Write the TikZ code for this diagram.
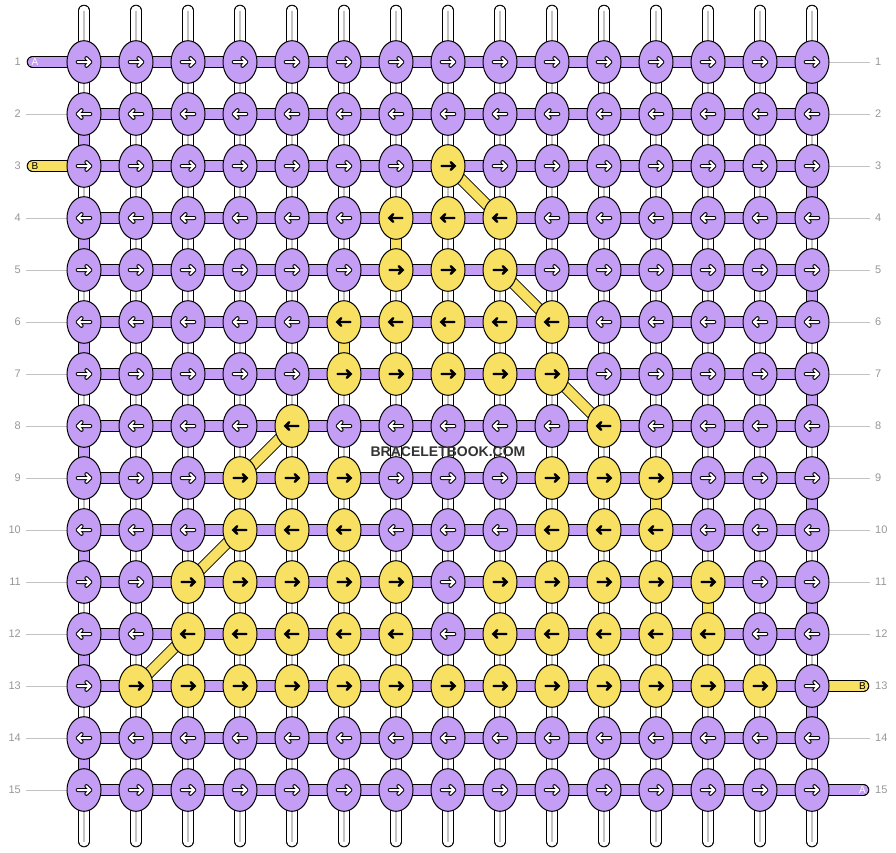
\documentclass[tikz,border=0pt]{standalone}
\usepackage{fontspec}
\setmainfont{Liberation Sans}
\usetikzlibrary{shapes.geometric}
\pgfdeclarelayer{bg}
\pgfsetlayers{bg,main}
\definecolor{purp}{RGB}{196,157,245}
\definecolor{yel}{RGB}{247,224,98}
\definecolor{lgrey}{RGB}{195,195,195}
\definecolor{tgrey}{RGB}{150,150,150}
\definecolor{wmark}{RGB}{51,51,51}
\tikzset{
  knot/.style={ellipse, draw=black, line width=1pt, minimum width=34pt, minimum height=42.6pt, inner sep=0pt},
  knot0/.style={knot, fill=purp},
  knot1/.style={knot, fill=yel},
  arr0/.style={draw=white, line width=2pt, line cap=round, line join=round,
    preaction={draw=black, line width=4pt, line cap=round, line join=round}},
  arr1/.style={draw=black, line width=2.4pt, line cap=round, line join=miter},
  con0/.style={draw=white, line width=9.6pt, line cap=#1,
    preaction={draw=black, line width=11.6pt, line cap=#1},
    postaction={draw=lgrey, line width=1.3pt, line cap=butt}},
  con1/.style={draw=purp, line width=9.6pt, line cap=#1,
    preaction={draw=black, line width=11.6pt, line cap=#1}},
  con2/.style={draw=yel, line width=9.6pt, line cap=#1,
    preaction={draw=black, line width=11.6pt, line cap=#1}},
  con0/.default=butt, con1/.default=butt, con2/.default=butt,
  guide/.style={draw=lgrey, line width=1pt},
  rownum/.style={text=tgrey, font=\fontsize{11}{11}\selectfont, inner sep=0pt},
  stubtxt/.style={font=\fontsize{10}{10}\selectfont, inner sep=0pt}
}
\begin{document}
\begin{tikzpicture}[x=1pt, y=-1pt]
\useasboundingbox (0,0) rectangle (896,852);
% knots
\foreach \pat [count=\r] in {
 {0,0,0,0,0,0,0,0,0,0,0,0,0,0,0},
 {0,0,0,0,0,0,0,0,0,0,0,0,0,0,0},
 {0,0,0,0,0,0,0,1,0,0,0,0,0,0,0},
 {0,0,0,0,0,0,1,1,1,0,0,0,0,0,0},
 {0,0,0,0,0,0,1,1,1,0,0,0,0,0,0},
 {0,0,0,0,0,1,1,1,1,1,0,0,0,0,0},
 {0,0,0,0,0,1,1,1,1,1,0,0,0,0,0},
 {0,0,0,0,1,0,0,0,0,0,1,0,0,0,0},
 {0,0,0,1,1,1,0,0,0,1,1,1,0,0,0},
 {0,0,0,1,1,1,0,0,0,1,1,1,0,0,0},
 {0,0,1,1,1,1,1,0,1,1,1,1,1,0,0},
 {0,0,1,1,1,1,1,0,1,1,1,1,1,0,0},
 {0,1,1,1,1,1,1,1,1,1,1,1,1,1,0},
 {0,0,0,0,0,0,0,0,0,0,0,0,0,0,0},
 {0,0,0,0,0,0,0,0,0,0,0,0,0,0,0}}{
  \pgfmathtruncatemacro\d{mod(\r,2)==1 ? 1 : -1}
  \foreach \v [count=\c] in \pat {
    \node[knot\v] (n-\r-\c) at ({84+52*(\c-1)},{62+52*(\r-1)}) {};
    \begin{scope}[shift={(n-\r-\c.center)}, xscale=\d]
      \ifnum\v=0
        \draw[arr0] (-6.3,0) -- (6.3,0) (2.4,-3.9) -- (6.3,0) -- (2.4,3.9);
      \else
        \draw[arr1] (-6.5,0) -- (6.5,0) (2.8,-3.8) -- (6.7,0) -- (2.8,3.8);
      \fi
    \end{scope}
  }
}
% row numbers, stub labels, watermark
\foreach \r in {1,...,15}{
  \node[rownum, anchor=east] (ll-\r) at (21,{62+52*(\r-1)}) {\r};
  \node[rownum, anchor=west] (rl-\r) at (875,{62+52*(\r-1)}) {\r};
}
\node[stubtxt, text=white] (sa-l) at (35,62) {A};
\node[stubtxt, text=black] (sb-l) at (35,166) {B};
\node[stubtxt, text=black] (sb-r) at (862.5,686) {B};
\node[stubtxt, text=white] (sa-r) at (862.5,790) {A};
\node[font=\bfseries\fontsize{14}{14}\selectfont, text=wmark, inner sep=0pt] (wm) at (448,452) {BRACELETBOOK.COM};
\begin{pgfonlayer}{bg}
  % warp strings (vertical)
  \foreach \c in {1,...,15}{
    \coordinate (top-\c) at ({84+52*(\c-1)},10.5);
    \coordinate (bot-\c) at ({84+52*(\c-1)},841.5);
    \draw[con0=round] (top-\c) -- (n-1-\c.center);
    \draw[con0=round] (n-15-\c.center) -- (bot-\c);
    \foreach \r in {1,...,14}{
      \pgfmathtruncatemacro\rn{\r+1}
      \pgfmathtruncatemacro\k{(((\c==15)&&(mod(\r,2)==1))||((\c==1)&&(mod(\r,2)==0))) ? 1 : ((((\r==4)&&(\c==7))||((\r==6)&&(\c==6))||((\r==9)&&(\c==12))||((\r==11)&&(\c==13))) ? 2 : 0)}
      \draw[con\k] (n-\r-\c.center) -- (n-\rn-\c.center);
    }
  }
  % horizontal connectors
  \foreach \r in {1,...,15}{
    \foreach \c in {1,...,14}{
      \pgfmathtruncatemacro\cn{\c+1}
      \draw[con1] (n-\r-\c.center) -- (n-\r-\cn.center);
    }
  }
  % diagonals of string B
  \foreach \a/\b in {3-8/4-9, 5-9/6-10, 7-10/8-11, 8-5/9-4, 10-4/11-3, 12-3/13-2}{
    \draw[con2] (n-\a.center) -- (n-\b.center);
  }
  % left side
  \coordinate (ls-1) at (32.5,62);
  \coordinate (ls-3) at (32.5,166);
  \draw[con1=round] (ls-1) -- (n-1-1.center);
  \draw[con2=round] (ls-3) -- (n-3-1.center);
  \foreach \r in {2,4,5,6,7,8,9,10,11,12,13,14,15}{
    \coordinate (lg-\r) at (26,{62+52*(\r-1)});
    \draw[guide] (lg-\r) -- (n-\r-1.center);
  }
  % right side
  \coordinate (rs-13) at (863.5,686);
  \coordinate (rs-15) at (863.5,790);
  \draw[con2=round] (n-13-15.center) -- (rs-13);
  \draw[con1=round] (n-15-15.center) -- (rs-15);
  \foreach \r in {1,2,3,4,5,6,7,8,9,10,11,12,14}{
    \coordinate (rg-\r) at (870,{62+52*(\r-1)});
    \draw[guide] (n-\r-15.center) -- (rg-\r);
  }
\end{pgfonlayer}
\end{tikzpicture}
\end{document}
